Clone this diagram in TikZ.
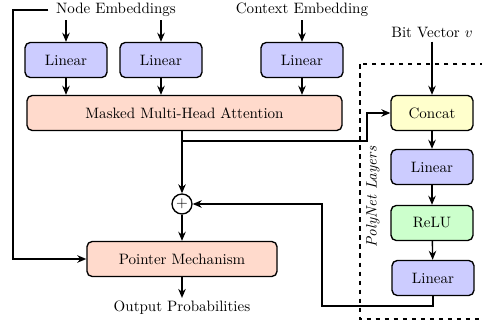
\documentclass[tikz,border=0pt]{standalone}
\usetikzlibrary{arrows.meta,positioning,calc}
\definecolor{linc}{RGB}{204,204,255}
\definecolor{mhac}{RGB}{255,218,204}
\definecolor{catc}{RGB}{255,255,204}
\definecolor{reluc}{RGB}{204,255,204}
\begin{document}
\begin{tikzpicture}[x=0.665pt,y=-0.665pt,
  box/.style={draw=black,line width=0.9pt,rounded corners=3.5pt,minimum height=23.3pt,inner sep=0pt,font=\normalsize},
  linbox/.style={box,fill=linc,minimum width=54.5pt},
  mhabox/.style={box,fill=mhac,minimum width=209.5pt},
  ptrbox/.style={box,fill=mhac,minimum width=126.4pt},
  catbox/.style={box,fill=catc,minimum width=54.5pt},
  relubox/.style={box,fill=reluc,minimum width=54.5pt},
  lbl/.style={inner sep=2pt},
  arr/.style={-{Stealth[length=6pt,width=5pt]},line width=0.9pt},
  ln/.style={line width=0.9pt}]
\useasboundingbox (0,0) rectangle (482,323);
\node[lbl] (ne) at (116,10) {Node Embeddings};
\node[lbl] (ce) at (302,10) {Context Embedding};
\node[lbl] (bv) at (432,33) {Bit Vector $v$};
\node[linbox] (l1) at (66,60) {Linear};
\node[linbox] (l2) at (161,60) {Linear};
\node[linbox] (l3) at (302,60) {Linear};
\node[mhabox] (mha) at (184.5,113) {Masked Multi-Head Attention};
\node[catbox] (cat) at (432,113) {Concat};
\node[linbox] (l4) at (432,167) {Linear};
\node[relubox] (relu) at (432,223) {ReLU};
\node[linbox] (l5) at (433,278) {Linear};
\node[draw,circle,line width=0.9pt,minimum size=13.3pt,inner sep=0pt,fill=white] (plus) at (182,204) {$+$};
\node[ptrbox] (ptr) at (182,259) {Pointer Mechanism};
\node[lbl] (out) at (182,308) {Output Probabilities};
\node[rotate=90,font=\itshape] (pn) at (373,197) {PolyNet Layers};
\draw[dashed,line width=0.9pt] (360,64) rectangle (492,319);
\coordinate (lft) at (13,10);
\coordinate (br) at (182,141);
\coordinate (k) at (367,141);
\coordinate (q1) at (322,306);
\draw[arr] ([xshift=-3pt]ne.west) -- (lft) |- (ptr.west);
\draw[arr] (l1 |- ne.south) -- (l1);
\draw[arr] (l2 |- ne.south) -- (l2);
\draw[arr] (l3 |- ce.south) -- (l3);
\draw[arr] (l1) -- (l1 |- mha.north);
\draw[arr] (l2) -- (l2 |- mha.north);
\draw[arr] (l3) -- (l3 |- mha.north);
\draw[arr] (mha.south -| plus) -- (plus);
\draw[arr] (br) -- (k) |- (cat.west);
\draw[arr] (bv) -- (cat);
\draw[arr] (cat) -- (l4);
\draw[arr] (l4) -- (relu);
\draw[arr] (relu) -- (l5);
\draw[arr] (l5.south) |- (q1) |- (plus.east);
\draw[arr] (plus) -- (ptr);
\draw[arr] (ptr) -- (out);
\end{tikzpicture}
\end{document}
